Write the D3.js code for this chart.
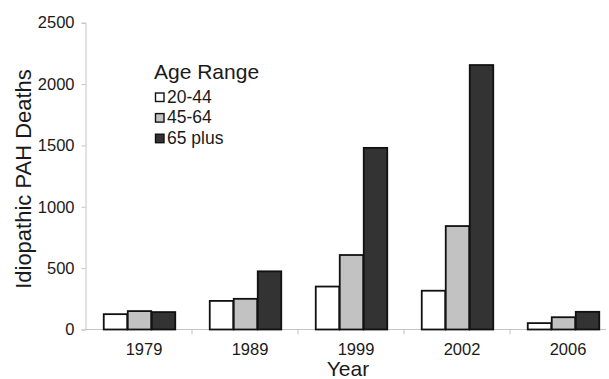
<!DOCTYPE html>
<html>
<head>
<meta charset="utf-8">
<script src="https://cdn.jsdelivr.net/npm/d3@7"></script>
<style>
  html, body { margin: 0; padding: 0; background: #fff; }
  svg { display: block; }
  text { font-family: "Liberation Sans", Arial, sans-serif; fill: #1a1a1a; }
</style>
</head>
<body>
<svg id="chart" width="609" height="379"></svg>
<script>
const years = ["1979", "1989", "1999", "2002", "2006"];
const seriesNames = ["20-44", "45-64", "65 plus"];
const ages2044 = [125, 233, 350, 316, 52];
const ages4564 = [150, 250, 607, 843, 100];
const ages65plus = [142, 474, 1480, 2155, 144];
const yTicks = [0, 500, 1000, 1500, 2000, 2500];
const fills = ["#ffffff", "#c2c2c2", "#333333"];

const seriesValues = [ages2044, ages4564, ages65plus];
const data = years.map((yr, i) => ({
  year: yr,
  values: seriesNames.map((s, j) => ({ key: s, value: seriesValues[j][i], idx: j }))
}));

const svg = d3.select("#chart");
const axisX = 85.5, baseY = 329.5, topY = 22.7;

const y = d3.scaleLinear().domain([0, 2500]).range([baseY, topY]);
const x0 = d3.scaleBand().domain(years).range([86, 616]);
const groupW = 72;
const x1 = d3.scaleBand().domain(seriesNames).range([0, groupW]);
const color = d3.scaleOrdinal().domain(seriesNames).range(fills);

// Y axis
const yAxis = svg.append("g").attr("transform", `translate(${axisX},0)`)
  .call(d3.axisLeft(y).tickValues(yTicks).tickSize(4).tickPadding(7).tickFormat(d3.format("d")));
yAxis.select(".domain").attr("stroke", "#c4c4c4").attr("stroke-width", 1);
yAxis.selectAll(".tick line").attr("stroke", "#c4c4c4");
yAxis.selectAll(".tick text").attr("font-size", 16.5).attr("fill", "#1a1a1a")
  .style("font-family", "'Liberation Sans', Arial, sans-serif");

// baseline
svg.append("line").attr("x1", axisX).attr("x2", 606).attr("y1", baseY).attr("y2", baseY)
  .attr("stroke", "#c4c4c4").attr("stroke-width", 1.2);

// category separator ticks
svg.append("g").selectAll("line").data(years.slice(1)).join("line")
  .attr("x1", d => x0(d)).attr("x2", d => x0(d))
  .attr("y1", baseY).attr("y2", baseY + 5)
  .attr("stroke", "#c4c4c4");

// Bars
const groups = svg.append("g").selectAll("g").data(data).join("g")
  .attr("transform", d => `translate(${x0(d.year) + (x0.bandwidth() - groupW) / 2},0)`);
groups.selectAll("rect").data(d => d.values).join("rect")
  .attr("x", d => x1(d.key) + 0.75)
  .attr("width", x1.bandwidth() - 0.5)
  .attr("y", d => y(d.value))
  .attr("height", d => baseY - y(d.value))
  .attr("fill", d => color(d.key))
  .attr("stroke", "#111")
  .attr("stroke-width", 1.8);

// X labels
svg.append("g").selectAll("text").data(years).join("text")
  .attr("x", d => x0(d) + x0.bandwidth() / 2 + 5)
  .attr("y", 355)
  .attr("text-anchor", "middle")
  .attr("font-size", 16.5)
  .text(d => d);

// Axis titles
svg.append("text").attr("x", 348).attr("y", 376).attr("text-anchor", "middle")
  .attr("font-size", 21).text("Year");
svg.append("text")
  .attr("transform", "translate(31,179) rotate(-90)")
  .attr("text-anchor", "middle")
  .attr("font-size", 22).text("Idiopathic PAH Deaths");

// Legend
const legend = svg.append("g");
legend.append("text").attr("x", 154).attr("y", 78.5).attr("font-size", 21).text("Age Range");
const items = legend.selectAll("g.item").data(seriesNames).join("g")
  .attr("class", "item")
  .attr("transform", (d, i) => `translate(155,${92.5 + i * 20.6})`);
items.append("rect").attr("x", 0.5).attr("y", 0.5).attr("width", 8.5).attr("height", 8.5)
  .attr("fill", d => color(d)).attr("stroke", "#111").attr("stroke-width", 1.4);
items.append("text").attr("x", 12).attr("y", 10).attr("font-size", 17.5).text(d => d);
</script>
</body>
</html>
